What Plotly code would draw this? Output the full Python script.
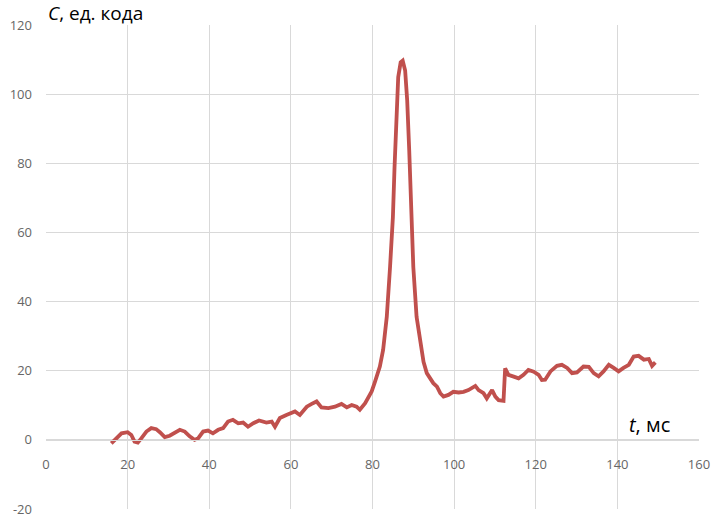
import plotly.graph_objects as go

# Digitized signal: time t (ms) and code value C
t_ms = [16.0, 17.0, 18.5, 20.0, 20.9, 21.7, 22.5, 23.4, 24.6, 25.8, 27.0, 27.9, 29.1, 30.3,
        31.5, 32.8, 34.0, 35.2, 36.4, 37.3, 38.5, 39.7, 40.9, 42.2, 43.4, 44.6, 45.8, 47.1,
        48.3, 49.5, 50.8, 52.2, 54.0, 55.3, 56.1, 57.3, 58.9, 61.0, 62.2, 63.9, 65.1, 66.3,
        67.5, 69.2, 70.8, 72.4, 73.7, 74.9, 76.1, 76.9, 78.2, 79.0, 79.8, 80.6, 81.8, 82.6,
        83.5, 84.3, 85.0, 85.4, 85.8, 86.3, 86.9, 87.4, 88.0, 88.5, 89.0, 89.6, 90.0, 90.8,
        91.7, 92.5, 93.3, 94.1, 94.9, 95.8, 96.6, 97.4, 98.6, 99.8, 101.1, 102.3, 103.5,
        105.2, 106.0, 107.2, 108.0, 109.3, 110.1, 110.9, 112.1, 112.5, 113.3, 114.6, 115.8,
        117.0, 118.2, 119.5, 120.7, 121.5, 122.3, 123.6, 125.2, 126.4, 127.7, 128.9, 130.1,
        131.7, 133.0, 134.2, 135.4, 136.6, 137.9, 139.1, 140.3, 141.5, 142.8, 144.0, 145.2,
        146.5, 147.7, 148.5, 149.3]
c_code = [-1.0, 0.2, 1.9, 2.2, 1.4, -0.5, -0.8, 0.5, 2.4, 3.4, 3.1, 2.2, 0.8, 1.2,
          1.9, 2.9, 2.4, 1.0, 0.0, 0.5, 2.4, 2.7, 1.9, 2.9, 3.4, 5.3, 5.8, 4.8,
          5.0, 3.8, 4.8, 5.6, 5.0, 5.3, 3.8, 6.3, 7.2, 8.2, 7.2, 9.6, 10.4, 11.1,
          9.4, 9.2, 9.6, 10.4, 9.4, 10.1, 9.6, 8.7, 10.6, 12.1, 14.0, 16.8, 21.2, 26.0,
          35.6, 50.0, 64.5, 78.9, 93.3, 104.9, 109.2, 109.7, 106.8, 98.2, 83.7, 64.5, 50.0, 35.6,
          27.9, 22.6, 19.3, 17.8, 16.4, 15.4, 13.5, 12.5, 13.0, 13.9, 13.7, 13.9, 14.4,
          15.6, 14.4, 13.5, 12.0, 14.4, 12.5, 11.5, 11.3, 20.7, 18.8, 18.3, 17.8,
          18.8, 20.2, 19.7, 18.8, 17.3, 17.4, 19.8, 21.4, 21.7, 20.8, 19.3, 19.5,
          21.2, 21.1, 19.3, 18.4, 19.8, 21.7, 20.8, 19.8, 20.8, 21.7, 24.1, 24.3,
          23.2, 23.4, 21.4, 22.4]

x_ticks = [0, 20, 40, 60, 80, 100, 120, 140, 160]
x_grid = [20, 40, 60, 80, 100, 120, 140]
y_ticks = [-20, 0, 20, 40, 60, 80, 100, 120]

tick_font = dict(family="Open Sans", size=13, color="#666666")
grid_color = "#d9d9d9"

fig = go.Figure()
fig.add_trace(go.Scatter(x=t_ms, y=c_code, mode="lines",
                         line=dict(color="#C0504D", width=3.8),
                         showlegend=False, hoverinfo="skip"))
# invisible trace for the label axis
fig.add_trace(go.Scatter(x=[0, 160], y=[0, 0], xaxis="x2", mode="markers",
                         marker=dict(opacity=0), showlegend=False, hoverinfo="skip"))

fig.update_layout(
    width=711, height=520,
    margin=dict(l=46, r=12, t=25, b=11),
    paper_bgcolor="white", plot_bgcolor="white",
    xaxis=dict(range=[0, 160], tickvals=x_grid, showticklabels=False,
               showgrid=True, gridcolor=grid_color, gridwidth=1,
               zeroline=False, showline=False, automargin=False),
    xaxis2=dict(range=[0, 160], overlaying="x", anchor="free", position=1/7,
                tickvals=x_ticks, ticktext=[str(v) for v in x_ticks],
                tickfont=tick_font, showgrid=False, zeroline=False,
                showline=True, linecolor=grid_color, linewidth=1,
                ticks="", ticklabelstandoff=13, automargin=False),
    yaxis=dict(range=[-20, 120], tickvals=y_ticks,
               ticktext=[str(v) for v in y_ticks], tickfont=tick_font,
               showgrid=True, gridcolor=grid_color, gridwidth=1,
               zeroline=False, showline=False, ticks="",
               ticklabelstandoff=13, automargin=False),
    annotations=[
        dict(text="<i>C</i>, ед. кода", xref="paper", yref="paper",
             x=0, y=1 + 12/484, xanchor="left", yanchor="middle",
             showarrow=False, font=dict(family="Open Sans", size=19, color="black")),
        dict(text="<i>t</i>, мс", xref="x", yref="y",
             x=142.3, y=4.3, xanchor="left", yanchor="middle",
             showarrow=False, font=dict(family="Open Sans", size=20, color="black")),
    ],
)

fig.write_html("out.html", config={"displayModeBar": False},
               post_script="document.body.style.margin='0';document.body.style.overflow='hidden';")
